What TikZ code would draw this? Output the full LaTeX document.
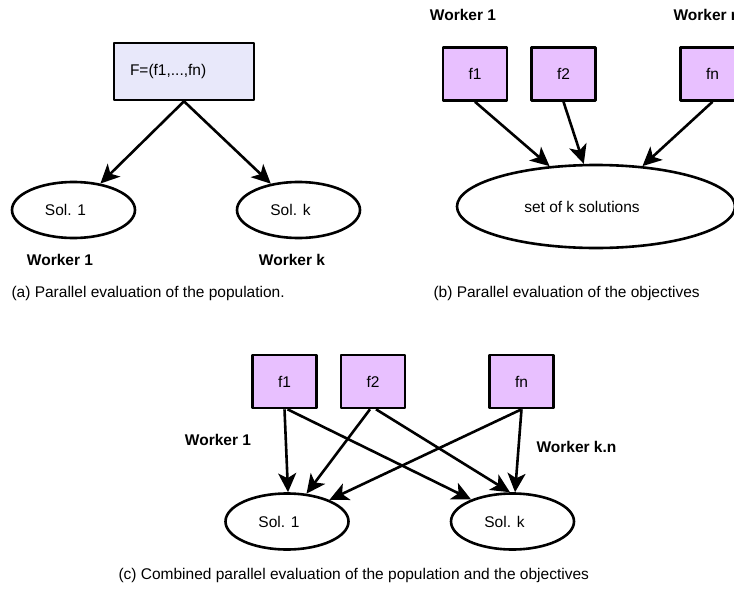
\documentclass[tikz,border=0pt]{standalone}
\usepackage{fontspec}
\setmainfont{Liberation Sans}
\usetikzlibrary{arrows.meta,shapes.geometric}
\definecolor{popfill}{RGB}{232,232,250}
\definecolor{objfill}{RGB}{232,192,255}
\newcommand{\figfont}{\fontsize{15.5}{18}\selectfont}
\tikzset{
  objbox/.style={draw, line width=2.6pt, fill=objfill, minimum width=64pt, minimum height=53pt, inner sep=0pt},
  solnode/.style={draw, ellipse, line width=2.6pt, minimum width=123pt, minimum height=56pt, inner sep=0pt, label={[xshift=-8pt]center:#1}},
  wlabel/.style={font=\figfont\bfseries},
  caption/.style={anchor=west},
  arr/.style={->, line width=2.6pt}
}
\begin{document}
\begin{tikzpicture}[x=1pt, y=-1pt, font=\figfont, line join=round, >={Stealth[length=19pt,width=18pt,inset=5pt]}]
	\useasboundingbox (0,0) rectangle (734,589);
	% (a) population
	\node[draw, line width=2.6pt, fill=popfill, minimum width=140pt, minimum height=57pt, text width=108pt, inner xsep=16pt, align=left] (F) at (184,71.5) {F=(f1,...,fn)};
	\node[solnode={Sol. 1}] (sol1a) at (73.5,210) {};
	\node[solnode={Sol. k}] (solka) at (298.5,210) {};
	\draw[arr] (F.south) -- (sol1a);
	\draw[arr] (F.south) -- (solka);
	\node[wlabel] (w1a) at (60,260) {Worker 1};
	\node[wlabel] (wka) at (292,260) {Worker k};
	\node[caption] (capa) at (8,293) {(a) Parallel evaluation of the population.};
	% (b) objectives
	\node[objbox] (f1b) at (475,74) {f1};
	\node[objbox] (f2b) at (563.5,74) {f2};
	\node[objbox] (fnb) at (712.5,74) {fn};
	\node[draw, ellipse, line width=2.6pt, minimum width=278pt, minimum height=83pt, inner sep=0pt, label={[xshift=-14pt]center:set of k solutions}] (setb) at (596,206.5) {};
	\draw[arr] (f1b.south) -- (setb.139);
	\draw[arr] (f2b.south) -- (setb.106);
	\draw[arr] (fnb.south) -- (setb.41);
	\node[wlabel] (w1b) at (463,15) {Worker 1};
	\node[wlabel, anchor=west] (wnb) at (670,15) {Worker n};
	\node[caption] (capb) at (430,293) {(b) Parallel evaluation of the objectives};
	% (c) combined
	\node[objbox] (f1c) at (284.5,381.5) {f1};
	\node[objbox] (f2c) at (373,381.5) {f2};
	\node[objbox] (fnc) at (521.5,381.5) {fn};
	\node[solnode={Sol. 1}] (sol1c) at (287,521.5) {};
	\node[solnode={Sol. k}] (solkc) at (512.5,521.5) {};
	\draw[arr] (f1c.south) -- (sol1c.88);
	\draw[arr] ([xshift=3pt]f1c.south) -- (solkc.152);
	\draw[arr] ([xshift=-3pt]f2c.south) -- (sol1c.55);
	\draw[arr] ([xshift=3pt]f2c.south) -- (solkc.95);
	\draw[arr] (fnc.south) -- (sol1c.27);
	\draw[arr] (fnc.south) -- (solkc.85);
	\node[wlabel] (w1c) at (218,440) {Worker 1};
	\node[wlabel, anchor=west] (wkc) at (533,447) {Worker k.n};
	\node[caption] (capc) at (115,575) {(c) Combined parallel evaluation of the population and the objectives};
\end{tikzpicture}
\end{document}
